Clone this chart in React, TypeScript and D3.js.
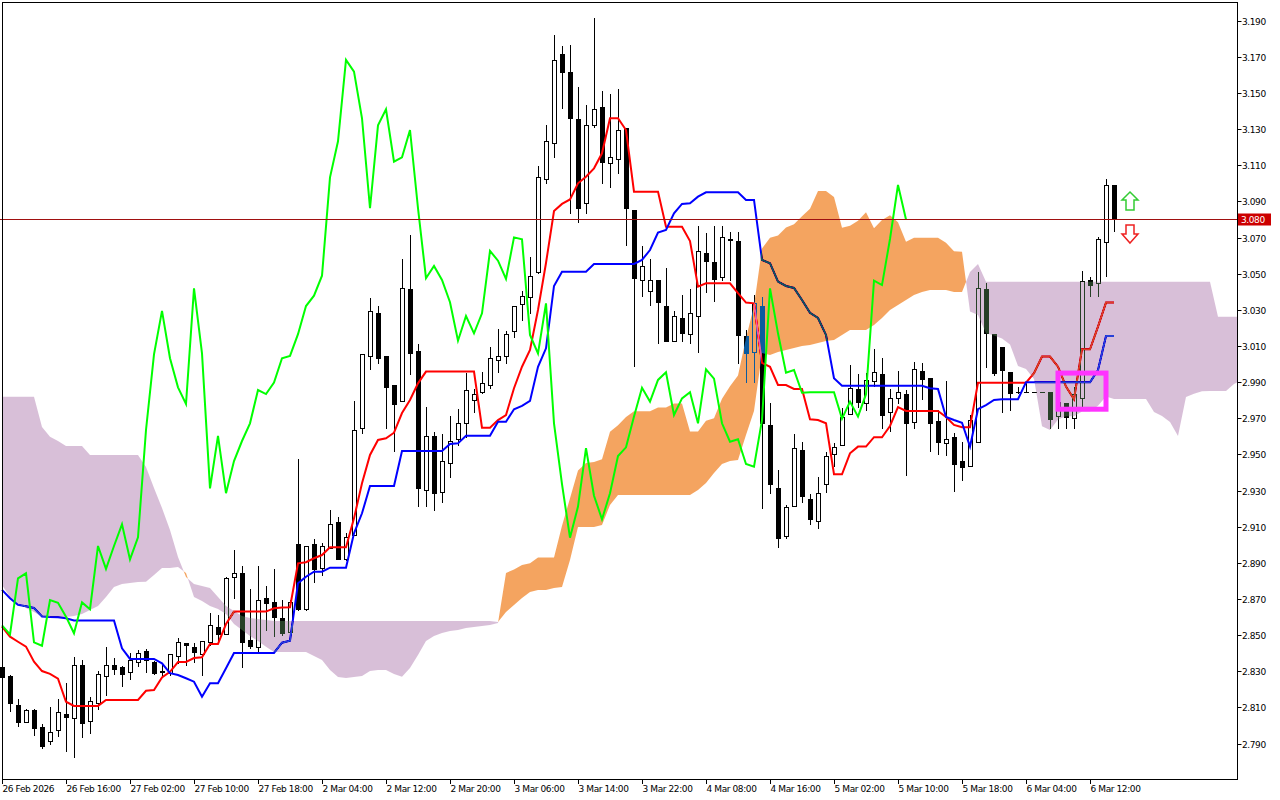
import React from "react";
import * as d3 from "d3";

const W = 1280;
const H = 800;

// ---- candle data (hourly bars) ----
const opens = [
  2.8323, 2.8274, 2.8111, 2.802, 2.8085, 2.7993, 2.7916, 2.7977, 2.8061, 2.8039,
  2.8332, 2.8022, 2.8122, 2.8272, 2.8332, 2.8321, 2.8294, 2.8351, 2.8411, 2.8351,
  2.83, 2.8289, 2.8383, 2.8455, 2.8433, 2.8396, 2.846, 2.8543, 2.8505, 2.882,
  2.8842, 2.8473, 2.8434, 2.8704, 2.8681, 2.8593, 2.8519, 2.9004, 2.8643, 2.9004,
  2.887, 2.898, 2.9124, 2.8919, 2.9054, 2.9644, 3.0045, 3.0281, 3.0045, 2.9884,
  2.9793, 3.0414, 3.0072, 2.9303, 2.9602, 2.929, 2.9451, 2.9584, 2.9672, 2.9801,
  2.9844, 2.9884, 3.0022, 3.0045, 3.0183, 3.0332, 3.0369, 3.0511, 3.1022, 3.1222,
  3.1716, 3.1618, 3.1356, 3.089, 3.1321, 3.1421, 3.1111, 3.1133, 3.1305, 3.0852,
  3.0465, 3.0404, 3.0465, 3.0321, 3.0129, 3.0257, 3.0165, 3.0268, 3.0616, 3.0566,
  3.048, 3.0688, 3.0681, 3.0157, 3.0068, 3.0321, 2.9663, 2.9312, 2.905, 2.9214,
  2.9523, 2.9252, 2.9131, 2.9336, 2.95, 2.9552, 2.9722, 2.986, 2.9783, 2.9906,
  2.9943, 2.9733, 2.981, 2.9834, 2.9681, 2.9962, 2.9921, 2.9685, 2.9561, 2.9598,
  2.9463, 2.9436, 2.957, 3.0415, 3.0166, 3.0093, 2.9956, 2.9844, 2.9844, 2.9844,
  2.9844, 2.9844, 2.9712, 2.9783, 2.97, 2.9814, 3.0465, 3.045, 3.0674, 3.0991,
];
const highs = [
  2.8351, 2.8279, 2.8145, 2.8091, 2.8091, 2.8008, 2.81, 2.8149, 2.8233, 2.838,
  2.8362, 2.8159, 2.8301, 2.8436, 2.8374, 2.8328, 2.8399, 2.8415, 2.8424, 2.8357,
  2.8333, 2.8394, 2.8483, 2.8456, 2.8456, 2.847, 2.8621, 2.8612, 2.8821, 2.8971,
  2.8882, 2.8757, 2.8882, 2.8771, 2.8865, 2.8694, 2.8694, 2.9473, 2.8993, 2.903,
  2.9011, 2.9192, 2.9152, 2.9063, 2.9796, 3.0054, 3.0364, 3.0321, 3.0045, 2.9884,
  3.058, 3.0714, 3.0111, 2.9761, 2.9626, 2.9611, 2.9712, 2.975, 2.9949, 2.986,
  2.9954, 3.0096, 3.0192, 3.0183, 3.0321, 3.0404, 3.0591, 3.1096, 3.1323, 3.1821,
  3.1762, 3.1766, 3.1532, 3.1434, 3.1913, 3.1511, 3.1493, 3.152, 3.1305, 3.0852,
  3.0653, 3.058, 3.0465, 3.053, 3.0294, 3.0382, 3.0415, 3.0764, 3.0727, 3.0764,
  3.0764, 3.0732, 3.0732, 3.0188, 3.0382, 3.0369, 2.9783, 2.9414, 2.922, 2.9611,
  2.957, 2.9279, 2.9373, 2.9515, 2.9561, 2.9755, 2.9995, 2.9943, 2.9949, 3.0082,
  3.0032, 2.986, 2.9962, 2.9856, 3.001, 3.0008, 2.9921, 2.9746, 2.9906, 2.9617,
  2.957, 2.9718, 3.0511, 3.045, 3.0166, 3.0093, 2.9956, 2.9875, 2.9902, 2.9844,
  2.9844, 2.9844, 2.9812, 2.9783, 2.9875, 3.0513, 3.048, 3.0701, 3.1024, 3.0991,
];
const lows = [
  2.8246, 2.808, 2.7998, 2.8019, 2.7949, 2.7874, 2.7899, 2.7944, 2.7861, 2.7828,
  2.7938, 2.796, 2.8091, 2.817, 2.8284, 2.8217, 2.8256, 2.8331, 2.8294, 2.8283,
  2.8274, 2.8278, 2.8344, 2.8332, 2.835, 2.828, 2.8443, 2.8471, 2.8504, 2.8704,
  2.8322, 2.8427, 2.8412, 2.8528, 2.8495, 2.85, 2.8508, 2.864, 2.864, 2.8792,
  2.8833, 2.898, 2.8919, 2.8916, 2.9054, 2.962, 2.9971, 3.0004, 2.9644, 2.9519,
  2.9793, 2.9943, 2.9214, 2.9214, 2.9192, 2.9238, 2.9373, 2.9552, 2.9598, 2.9733,
  2.9838, 2.9869, 2.9954, 3.0007, 3.0151, 3.0244, 3.0281, 3.0502, 3.1, 3.1147,
  3.1419, 3.0838, 3.0788, 3.0834, 3.131, 3.1, 3.0981, 3.1059, 3.0659, 2.9991,
  3.0378, 3.0327, 3.0118, 3.0129, 3.0129, 3.0129, 3.0118, 3.0065, 3.04, 3.0351,
  3.0465, 3.0465, 3.0004, 2.9902, 2.9902, 2.9202, 2.9288, 2.8989, 2.9036, 2.9214,
  2.9238, 2.9115, 2.9091, 2.929, 2.9437, 2.9552, 2.9722, 2.9764, 2.9746, 2.9878,
  2.9644, 2.9631, 2.9783, 2.9386, 2.9648, 2.9807, 2.952, 2.9502, 2.9497, 2.9299,
  2.9358, 2.9436, 2.957, 2.9982, 2.9939, 2.9733, 2.9746, 2.9841, 2.9844, 2.9844,
  2.9844, 2.9644, 2.9644, 2.9644, 2.9644, 2.9764, 3.0377, 3.0377, 3.0487, 3.0738,
];
const closes = [
  2.8268, 2.8124, 2.802, 2.8085, 2.7987, 2.7888, 2.7966, 2.8072, 2.8048, 2.8332,
  2.8011, 2.8133, 2.8283, 2.8332, 2.831, 2.8283, 2.8362, 2.84, 2.8363, 2.8292,
  2.8294, 2.8394, 2.8461, 2.8444, 2.8409, 2.847, 2.8554, 2.8504, 2.8814, 2.8842,
  2.846, 2.8441, 2.8694, 2.8679, 2.8602, 2.851, 2.8681, 2.8643, 2.8993, 2.8866,
  2.8993, 2.9113, 2.8919, 2.9041, 2.9635, 3.0054, 3.0294, 3.0032, 2.9871, 2.9779,
  3.0419, 3.0059, 2.9312, 2.9602, 2.9285, 2.9463, 2.9574, 2.9672, 2.9856, 2.9834,
  2.9897, 3.0032, 3.0045, 3.0165, 3.0321, 3.0378, 3.0489, 3.1033, 3.1233, 3.1683,
  3.1618, 3.136, 3.0862, 3.1321, 3.141, 3.112, 3.1144, 3.1295, 3.0862, 3.0475,
  3.0543, 3.0465, 3.0342, 3.0129, 3.0266, 3.017, 3.0281, 3.0626, 3.0572, 3.0471,
  3.0701, 3.069, 3.0161, 3.0059, 3.0336, 2.9672, 2.9335, 2.9039, 2.9211, 2.9534,
  2.9271, 2.9141, 2.9285, 2.9491, 2.9539, 2.9709, 2.9869, 2.9792, 2.9912, 2.9954,
  2.9718, 2.981, 2.9844, 2.9672, 2.9971, 2.9919, 2.9672, 2.957, 2.9584, 2.9447,
  2.9432, 2.969, 3.0419, 3.017, 2.9952, 2.9967, 2.9841, 2.9844, 2.9844, 2.9844,
  2.9844, 2.9698, 2.9792, 2.9709, 2.9833, 3.0461, 3.0437, 3.0692, 3.0991, 3.08,
];

// ---- Ichimoku lines ----
const tenkan = [
  2.8547, 2.8491, 2.8463, 2.8436, 2.8353, 2.8301, 2.8285, 2.8259, 2.8131, 2.8108,
  2.8108, 2.8108, 2.8108, 2.8141, 2.8141, 2.8141, 2.8141, 2.8141, 2.8192, 2.8196,
  2.8266, 2.8297, 2.8351, 2.8351, 2.8373, 2.8377, 2.8451, 2.8451, 2.8561, 2.863,
  2.863, 2.863, 2.863, 2.863, 2.8648, 2.8652, 2.8654, 2.8897, 2.8903, 2.8925,
  2.8943, 2.8986, 2.8986, 2.8986, 2.9146, 2.934, 2.9497, 2.958, 2.9589, 2.962,
  2.9729, 2.9801, 2.9893, 2.9958, 2.9958, 2.9958, 2.9958, 2.9958, 2.9958, 2.9958,
  2.9648, 2.9648, 2.969, 2.9718, 2.9866, 2.9985, 3.0078, 3.0299, 3.0559, 3.0847,
  3.0886, 3.0911, 3.1, 3.1037, 3.1083, 3.1166, 3.136, 3.136, 3.1295, 3.0954,
  3.0954, 3.0954, 3.0954, 3.076, 3.076, 3.076, 3.0681, 3.0428, 3.0447, 3.0447,
  3.0447, 3.0447, 3.0392, 3.034, 3.0336, 3.0006, 2.9985, 2.9884, 2.9884, 2.9862,
  2.9862, 2.9694, 2.969, 2.9672, 2.939, 2.939, 2.9506, 2.9543, 2.9543, 2.9595,
  2.9595, 2.9657, 2.9761, 2.974, 2.974, 2.974, 2.974, 2.974, 2.9707, 2.9663,
  2.965, 2.965, 2.9897, 2.9897, 2.9897, 2.9897, 2.9897, 2.9897, 2.9897, 2.9949,
  3.0041, 3.0041, 2.9985, 2.9875, 2.9805, 3.0082, 3.0082, 3.0207, 3.034, 3.034,
];
const kijun = [
  2.875, 2.8704, 2.8667, 2.8659, 2.865, 2.8603, 2.86, 2.8598, 2.8593, 2.8581,
  2.8581, 2.8581, 2.8581, 2.8581, 2.8581, 2.8427, 2.8368, 2.8368, 2.8368, 2.8368,
  2.8344, 2.8289, 2.8279, 2.8261, 2.8242, 2.8159, 2.8233, 2.8233, 2.8316, 2.8401,
  2.8401, 2.8401, 2.8401, 2.8401, 2.8401, 2.8458, 2.8469, 2.8787, 2.8823, 2.8851,
  2.8851, 2.8873, 2.8873, 2.8873, 2.9063, 2.9174, 2.9325, 2.9325, 2.9325, 2.9325,
  2.9519, 2.9519, 2.9519, 2.9519, 2.9519, 2.9519, 2.9558, 2.9561, 2.9603, 2.9603,
  2.9603, 2.9603, 2.9681, 2.9681, 2.975, 2.9768, 2.9796, 2.9985, 3.0087, 3.0432,
  3.0511, 3.0511, 3.0511, 3.0511, 3.0554, 3.0554, 3.0554, 3.0554, 3.0554, 3.0554,
  3.0576, 3.0631, 3.0727, 3.0742, 3.0834, 3.0886, 3.089, 3.0926, 3.095, 3.095,
  3.095, 3.095, 3.095, 3.0908, 3.0908, 3.0576, 3.0558, 3.0456, 3.0432, 3.0421,
  3.0354, 3.0283, 3.0255, 3.0161, 2.9921, 2.988, 2.988, 2.988, 2.988, 2.988,
  2.988, 2.988, 2.988, 2.988, 2.988, 2.988, 2.9866, 2.9862, 2.9707, 2.969,
  2.9675, 2.9543, 2.975, 2.9773, 2.9801, 2.9805, 2.9805, 2.9805, 2.9899, 2.9899,
  2.9899, 2.9899, 2.9899, 2.9899, 2.9899, 2.9899, 2.9899, 2.9967, 3.0155, 3.0155,
];
// Senkou spans, already shifted 26 bars forward (index = display bar)
const spanA = [
  2.8777, 2.8711, 2.8672, 2.865, 2.8628, 2.8602, 2.86, 2.86, 2.86, 2.8606,
  2.8617, 2.8639, 2.8661, 2.8711, 2.8766, 2.8783, 2.8788, 2.8794, 2.8795, 2.8833,
  2.8871, 2.8871, 2.8877, 2.8844, 2.8711, 2.8689, 2.8661, 2.8644, 2.8617, 2.8561,
  2.8528, 2.8495, 2.8467, 2.8436, 2.8406, 2.8406, 2.8406, 2.8406, 2.8406, 2.8384,
  2.8362, 2.8307, 2.8268, 2.8263, 2.8268, 2.8274, 2.8301, 2.8307, 2.8307, 2.8285,
  2.827, 2.8318, 2.839, 2.8467, 2.8495, 2.8512, 2.8523, 2.8528, 2.8539, 2.8545,
  2.855, 2.8556, 2.8567, 2.8844, 2.8863, 2.8888, 2.8897, 2.8929, 2.8929, 2.8929,
  2.9105, 2.9257, 2.9411, 2.9452, 2.9458, 2.9473, 2.9625, 2.9661, 2.9707, 2.9739,
  2.9739, 2.9739, 2.9759, 2.9759, 2.9781, 2.9781, 2.9626, 2.9626, 2.9686, 2.97,
  2.9808, 2.9877, 2.9937, 3.0142, 3.0323, 3.0639, 3.0699, 3.0711, 3.0756, 3.0774,
  3.0818, 3.086, 3.0957, 3.0957, 3.0924, 3.0754, 3.0765, 3.0793, 3.084, 3.0751,
  3.0797, 3.0823, 3.0785, 3.0677, 3.0699, 3.0699, 3.0699, 3.0699, 3.0671, 3.0624,
  3.0622, 3.0291, 3.0271, 3.017, 3.0158, 3.0141, 3.0108, 2.9989, 2.9973, 2.9917,
  2.9656, 2.9635, 2.9693, 2.9711, 2.9711, 2.9737, 2.9737, 2.9769, 2.982, 2.9807,
  2.9807, 2.9807, 2.9807, 2.9807, 2.9735, 2.9712, 2.9679, 2.9602, 2.9818, 2.9835,
  2.9849, 2.9851, 2.9851, 2.9851, 2.989, 2.9912,
];
const spanB = [
  2.9819, 2.9819, 2.9819, 2.9819, 2.9819, 2.9652, 2.9598, 2.9574, 2.9546, 2.9546,
  2.9546, 2.9497, 2.9497, 2.9497, 2.9497, 2.9497, 2.9497, 2.9497, 2.943, 2.9314,
  2.9203, 2.9082, 2.8932, 2.8822, 2.8783, 2.8772, 2.8761, 2.8711, 2.8661, 2.8633,
  2.8606, 2.8595, 2.8589, 2.8584, 2.8578, 2.8578, 2.8578, 2.8578, 2.8578, 2.8578,
  2.8578, 2.8578, 2.8578, 2.8578, 2.8578, 2.8578, 2.8578, 2.8578, 2.8578, 2.8578,
  2.8578, 2.8578, 2.8578, 2.8578, 2.8578, 2.8578, 2.8578, 2.8578, 2.8578, 2.8578,
  2.8578, 2.8578, 2.8572, 2.8628, 2.8667, 2.8705, 2.8739, 2.875, 2.875, 2.8761,
  2.8766, 2.8916, 2.9098, 2.9098, 2.9098, 2.9109, 2.922, 2.9275, 2.9275, 2.9275,
  2.9275, 2.9275, 2.9275, 2.9275, 2.9275, 2.9275, 2.9275, 2.9303, 2.9342, 2.9397,
  2.9447, 2.9463, 2.9469, 2.9607, 2.974, 3.0061, 3.005, 3.0067, 3.0078, 3.0089,
  3.01, 3.0105, 3.0116, 3.0128, 3.0133, 3.0161, 3.0188, 3.0188, 3.0188, 3.0216,
  3.0255, 3.0299, 3.0327, 3.0354, 3.0382, 3.0399, 3.041, 3.041, 3.041, 3.0399,
  3.0399, 3.0509, 3.0554, 3.0456, 3.0456, 3.0456, 3.0456, 3.0456, 3.0456, 3.0456,
  3.0456, 3.0456, 3.0456, 3.0456, 3.0456, 3.0456, 3.0456, 3.0456, 3.0456, 3.0456,
  3.0456, 3.0456, 3.0456, 3.0456, 3.0456, 3.0456, 3.0456, 3.0456, 3.0456, 3.0456,
  3.0456, 3.0456, 3.0262, 3.0262, 3.0262, 3.0262,
];
const CHIKOU_SHIFT = 26;

// ---- axes ----
const yTicks = [2.79, 2.81, 2.83, 2.85, 2.87, 2.89, 2.91, 2.93, 2.95, 2.97, 2.99, 3.01, 3.03, 3.05, 3.07, 3.09, 3.11, 3.13, 3.15, 3.17, 3.19];
const xTickBars = [0, 8, 16, 24, 32, 40, 48, 56, 64, 72, 80, 88, 96, 104, 112, 120, 128, 136];
const xTickLabels = [
  "26 Feb 2026", "26 Feb 16:00", "27 Feb 02:00", "27 Feb 10:00", "27 Feb 18:00",
  "2 Mar 04:00", "2 Mar 12:00", "2 Mar 20:00", "3 Mar 06:00", "3 Mar 14:00",
  "3 Mar 22:00", "4 Mar 08:00", "4 Mar 16:00", "5 Mar 02:00", "5 Mar 10:00",
  "5 Mar 18:00", "6 Mar 04:00", "6 Mar 12:00",
];
const bidPrice = 3.08;
// chart objects
const boxBars = [132, 138];
const boxPrices = [2.975, 2.995];
const arrowBar = 141;
const upArrowPrice = 3.0952;
const downArrowPrice = 3.0672;

const FONT = "'DejaVu Sans', Tahoma, sans-serif";

export default function App() {
  const plotRight = 1237;
  const plotBottom = 779;
  const x = d3.scaleLinear().domain([0, 1]).range([2, 10]);
  const y = d3.scaleLinear().domain([2.79, 3.19]).range([743.5, 20.7]);

  const lineGen = d3
    .line<number>()
    .x((_, i) => x(i))
    .y((d) => y(d));
  const chikouGen = d3
    .line<number>()
    .x((_, i) => x(i))
    .y((d) => y(d));

  const areaDown = d3
    .area<number>()
    .x((_, i) => x(i))
    .y0((d) => y(d))
    .y1(H);
  const areaUp = d3
    .area<number>()
    .x((_, i) => x(i))
    .y0(0)
    .y1((d) => y(d));

  const candles = opens.map((o, i) => {
    const c = closes[i];
    const cx = Math.round(x(i));
    const yo = Math.round(y(o));
    const yc = Math.round(y(c));
    const yh = Math.round(y(highs[i]));
    const yl = Math.round(y(lows[i]));
    const top = Math.min(yo, yc);
    const bot = Math.max(yo, yc);
    const bull = c >= o;
    return (
      <g key={i}>
        <line x1={cx + 0.5} x2={cx + 0.5} y1={yh} y2={yl + 1} stroke="#000" strokeWidth={1} />
        {bot - top < 1 ? (
          <line x1={cx - 2} x2={cx + 3} y1={top + 0.5} y2={top + 0.5} stroke="#000" strokeWidth={1} />
        ) : (
          <rect x={cx - 1.5} y={top + 0.5} width={4} height={bot - top} fill={bull ? "#fff" : "#000"} stroke="#000" strokeWidth={1} />
        )}
      </g>
    );
  });

  const chikou = closes.slice(CHIKOU_SHIFT);

  const bx0 = x(boxBars[0]);
  const bx1 = x(boxBars[1]);
  const by0 = y(boxPrices[1]);
  const by1 = y(boxPrices[0]);

  const ax = Math.round(x(arrowBar));
  const ut = Math.round(y(upArrowPrice));
  const upPath = `M${ax},${ut} L${ax + 8},${ut + 8} L${ax + 4},${ut + 8} L${ax + 4},${ut + 18} L${ax - 4},${ut + 18} L${ax - 4},${ut + 8} L${ax - 8},${ut + 8} Z`;
  const db = Math.round(y(downArrowPrice));
  const downPath = `M${ax},${db} L${ax + 8},${db - 9} L${ax + 4},${db - 9} L${ax + 4},${db - 18} L${ax - 4},${db - 18} L${ax - 4},${db - 9} L${ax - 8},${db - 9} Z`;

  const bidY = Math.round(y(bidPrice)) + 0.5;

  return (
    <svg
      width={W}
      height={H}
      viewBox={`0 0 ${W} ${H}`}
      style={{ position: "absolute", left: 0, top: 0, background: "#fff" }}
    >
      <defs>
        <clipPath id="plotClip">
          <rect x={0} y={2} width={plotRight} height={plotBottom - 2} />
        </clipPath>
        <clipPath id="aboveB">
          <path d={areaUp(spanB) || ""} />
        </clipPath>
        <clipPath id="aboveA">
          <path d={areaUp(spanA) || ""} />
        </clipPath>
      </defs>

      <g style={{ isolation: "isolate" }}>
        <rect x={0} y={0} width={W} height={H} fill="#fff" />
        {candles}
        <path d={lineGen(tenkan) || ""} fill="none" stroke="#ff0000" strokeWidth={2} />
        <path d={lineGen(kijun) || ""} fill="none" stroke="#0000ff" strokeWidth={2} />
        <g clipPath="url(#plotClip)" style={{ mixBlendMode: "difference" }}>
          <path d={areaDown(spanA) || ""} clipPath="url(#aboveB)" fill="#0b5b9f" />
          <path d={areaDown(spanB) || ""} clipPath="url(#aboveA)" fill="#274027" />
        </g>
      </g>

      <path d={chikouGen(chikou) || ""} fill="none" stroke="#00ff00" strokeWidth={2} />

      <line x1={0} x2={plotRight} y1={bidY} y2={bidY} stroke="#a01010" strokeWidth={1} />

      <rect
        x={bx0}
        y={by0}
        width={bx1 - bx0}
        height={by1 - by0}
        fill="none"
        stroke="#ff33ff"
        strokeWidth={5}
      />

      <path d={upPath} fill="#fff" stroke="#33cc33" strokeWidth={1.5} />
      <path d={downPath} fill="#fff" stroke="#ee2020" strokeWidth={1.5} />

      {/* frame */}
      <rect x={2.5} y={2.5} width={plotRight - 2} height={plotBottom - 2} fill="none" stroke="#000" strokeWidth={1} />

      {/* y axis */}
      {yTicks.map((t) => {
        const ty = Math.round(y(t)) + 0.5;
        return (
          <g key={t}>
            <line x1={plotRight + 0.5} x2={plotRight + 4.5} y1={ty} y2={ty} stroke="#000" />
            <text x={plotRight + 5} y={ty + 3.5} fontFamily={FONT} fontSize={9} letterSpacing={-0.4} fill="#000">
              {t.toFixed(3)}
            </text>
          </g>
        );
      })}
      <rect x={plotRight + 1} y={bidY - 6} width={33} height={12} fill="#cc0000" />
      <text x={plotRight + 4} y={bidY + 3.5} fontFamily={FONT} fontSize={9} letterSpacing={-0.4} fill="#fff">
        {bidPrice.toFixed(3)}
      </text>

      {/* x axis */}
      {xTickBars.map((b, i) => {
        const tx = Math.round(x(b)) + 0.5;
        return (
          <g key={b}>
            <line x1={tx} x2={tx} y1={plotBottom} y2={plotBottom + 5} stroke="#000" />
            <text x={tx} y={plotBottom + 13} fontFamily={FONT} fontSize={9} letterSpacing={-0.4} fill="#000">
              {xTickLabels[i]}
            </text>
          </g>
        );
      })}
    </svg>
  );
}
